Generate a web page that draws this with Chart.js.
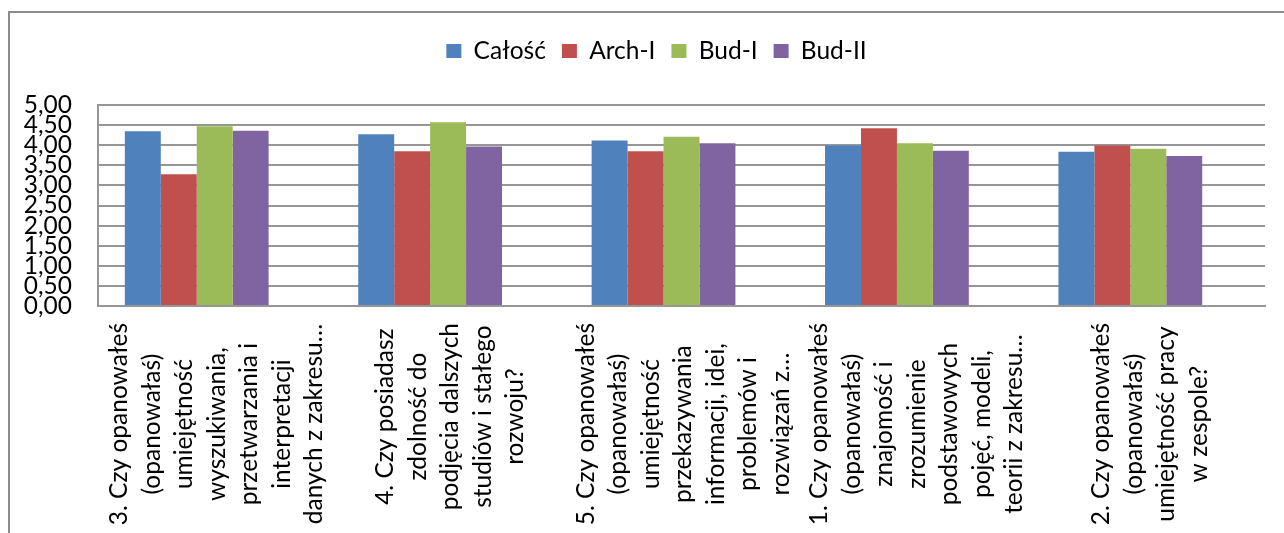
<!DOCTYPE html>
<html><head><meta charset="utf-8">
<script src="https://cdn.jsdelivr.net/npm/chart.js@4/dist/chart.umd.min.js"></script>
<style>
html,body{margin:0;padding:0;background:#fff;}
#wrap{position:relative;width:1284px;height:533px;overflow:hidden;}
#frame{position:absolute;left:8px;top:11px;width:1400px;height:600px;border-left:2px solid #8c8c8c;border-top:2px solid #8c8c8c;pointer-events:none;}
canvas{position:absolute;left:0;top:0;}
</style></head><body>
<div id="wrap"><canvas id="c" width="1284" height="533"></canvas><div id="frame"></div></div>
<script>
const categories = [
  ["3. Czy opanowałeś", "(opanowałaś)", "umiejętność", "wyszukiwania,", "przetwarzania i", "interpretacji", "danych z zakresu…"],
  ["4. Czy posiadasz", "zdolność do", "podjęcia dalszych", "studiów i stałego", "rozwoju?"],
  ["5. Czy opanowałeś", "(opanowałaś)", "umiejętność", "przekazywania", "informacji, idei,", "problemów i", "rozwiązań z…"],
  ["1. Czy opanowałeś", "(opanowałaś)", "znajomość i", "zrozumienie", "podstawowych", "pojęć, modeli,", "teorii z zakresu…"],
  ["2. Czy opanowałeś", "(opanowałaś)", "umiejętność pracy", "w zespole?"]
];
const seriesNames = ["Całość", "Arch-I", "Bud-I", "Bud-II"];
const calosc = [4.35, 4.27, 4.12, 3.99, 3.84];
const archI  = [3.28, 3.85, 3.85, 4.42, 3.99];
const budI   = [4.47, 4.57, 4.21, 4.05, 3.91];
const budII  = [4.36, 3.97, 4.05, 3.86, 3.73];
const yTickLabels = ["0,00","0,50","1,00","1,50","2,00","2,50","3,00","3,50","4,00","4,50","5,00"];
const colors = ["#4F81BD", "#C0504D", "#9BBB59", "#8064A2"];

const FONT = "Lato, 'Open Sans', sans-serif";
const FS = 24.5;
const LH = 32.5;
const GRID = "#969696";
const LEGEND_PAD = 16;

const xLabelPlugin = {
  id: "xLabels",
  afterDraw(chart) {
    const {ctx, chartArea, scales: {x}} = chart;
    ctx.save();
    ctx.font = FS + "px " + FONT;
    ctx.fillStyle = "#000";
    ctx.textAlign = "center";
    ctx.textBaseline = "middle";
    categories.forEach((lines, i) => {
      const px = x.getPixelForTick(i);
      const w = Math.max(...lines.map(l => ctx.measureText(l).width));
      const top = chartArea.bottom + 17;
      ctx.save();
      ctx.translate(px + 2, top + w / 2);
      ctx.rotate(-Math.PI / 2);
      lines.forEach((l, j) => ctx.fillText(l, 0, (j - (lines.length - 1) / 2) * LH));
      ctx.restore();
    });
    ctx.restore();
  }
};

// place the legend band at the top of the frame, centred like the original
const legendPlace = {
  id: "legendPlace",
  afterLayout(chart) {
    const lg = chart.legend;
    if (!lg) return;
    const h = lg.height;
    lg.top = 51 - LEGEND_PAD - FS / 2;
    lg.bottom = lg.top + h;
    lg.left = 48;
    lg.right = chart.chartArea.right;
    lg.width = lg.right - lg.left;
  }
};

const data = [calosc, archI, budI, budII];
const datasets = data.map((d, i) => ({
  label: seriesNames[i],
  data: d,
  backgroundColor: colors[i],
  borderWidth: 0
}));
datasets.push({ label: "", data: [], backgroundColor: "rgba(0,0,0,0)" });

new Chart(document.getElementById("c"), {
  type: "bar",
  data: { labels: categories.map(c => c.join(" ")), datasets },
  options: {
    responsive: false,
    animation: false,
    devicePixelRatio: 1,
    categoryPercentage: 0.77,
    barPercentage: 1.0,
    layout: { padding: { top: 14, left: 10, right: 19, bottom: 0 } },
    plugins: {
      legend: {
        position: "top",
        labels: {
          font: { family: FONT, size: FS },
          color: "#000",
          boxWidth: 15,
          boxHeight: 14,
          padding: LEGEND_PAD,
          filter: item => item.text !== ""
        }
      },
      tooltip: { enabled: false }
    },
    scales: {
      x: {
        grid: { display: false, drawTicks: false },
        border: { display: true, color: GRID, width: 2 },
        ticks: { display: false },
        afterFit: s => { s.height = 227; }
      },
      y: {
        min: 0, max: 5,
        ticks: {
          stepSize: 0.5,
          autoSkip: false,
          padding: 26,
          color: "#000",
          font: { family: FONT, size: FS },
          callback: v => yTickLabels[Math.round(v / 0.5)]
        },
        grid: { color: GRID, lineWidth: 2, drawTicks: false },
        border: { display: true, color: GRID, width: 2 },
        afterFit: s => { s.width = 88; s.paddingTop = 105; }
      }
    }
  },
  plugins: [xLabelPlugin, legendPlace]
});
</script>
</body></html>
